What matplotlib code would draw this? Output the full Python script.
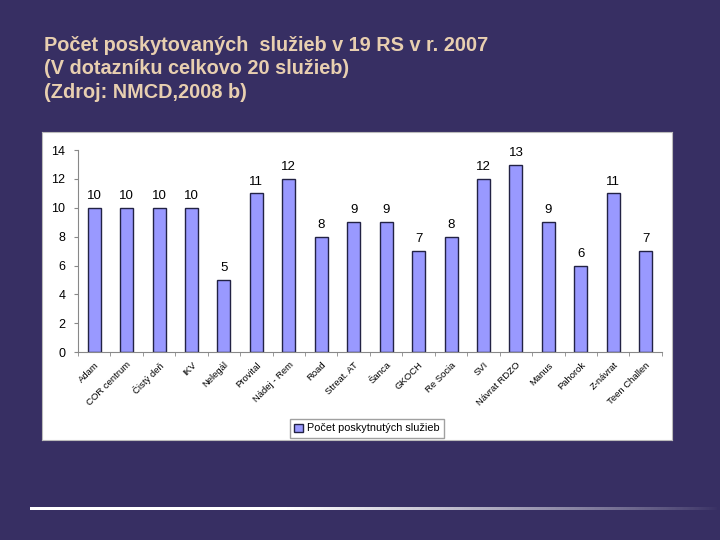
import matplotlib.pyplot as plt
import numpy as np

plt.rcParams['font.family'] = ['Liberation Sans', 'DejaVu Sans']

categories = ["Adam", "COR centrum", "Čistý deň", "IKV", "Nelegál", "Provital",
              "Nádej - Rem", "Road", "Streat. AT", "Šanca", "GKOCH", "Re Socia",
              "SVI", "Návrat RDZO", "Manus", "Pahorok", "Z-návrat", "Teen Challen"]
values = [10, 10, 10, 10, 5, 11, 12, 8, 9, 9, 7, 8, 12, 13, 9, 6, 11, 7]
yticks = [0, 2, 4, 6, 8, 10, 12, 14]
title_lines = ["Počet poskytovaných  služieb v 19 RS v r. 2007",
               "(V dotazníku celkovo 20 služieb)",
               "(Zdroj: NMCD,2008 b)"]
legend_label = "Počet poskytnutých služieb"

bg = "#372f63"
fig = plt.figure(figsize=(7.2, 5.4), dpi=100, facecolor=bg)

# title
for i, line in enumerate(title_lines):
    fig.text(0.061, 0.906 - i * 0.0435, line, color="#e8cfb0", fontsize=14.3,
             fontweight="bold", va="baseline", ha="left")

# white chart panel
pax = fig.add_axes([0.0583, 0.185, 0.875, 0.570], zorder=-1)
pax.set_facecolor("white")
pax.set_xticks([])
pax.set_yticks([])
for s in pax.spines.values():
    s.set_color("#bbbbbb")
    s.set_linewidth(0.8)

ax = fig.add_axes([0.1083, 0.348, 0.811, 0.374])
ax.set_facecolor("none")
x = np.arange(len(categories))
bars = ax.bar(x, values, width=0.4, color="#9999ff", edgecolor="#222244", linewidth=1,
              label=legend_label)
for xi, v in zip(x, values):
    ax.text(xi, v + 0.4, str(v), ha="center", va="bottom", fontsize=9.5, color="black")

ax.set_xlim(-0.5, len(categories) - 0.5)
ax.set_ylim(0, 14)
ax.set_yticks(yticks)
ax.tick_params(axis="y", labelsize=9, length=3, color="#888888", pad=6)
ax.set_xticks(x)
ax.set_xticklabels(categories, rotation=45, ha="right", rotation_mode="anchor", fontsize=6.8)
ax.tick_params(axis="x", length=0, pad=6)
ax.set_xticks(np.arange(len(categories) + 1) - 0.5, minor=True)
ax.tick_params(axis="x", which="minor", length=3, color="#888888")
for s in ["top", "right"]:
    ax.spines[s].set_visible(False)
for s in ["left", "bottom"]:
    ax.spines[s].set_color("#888888")

leg = fig.legend(handles=[bars], labels=[legend_label], loc="center",
                 bbox_to_anchor=(0.51, 0.2065), fontsize=7.8, frameon=True,
                 fancybox=False, edgecolor="#888888", handlelength=0.8, handleheight=0.8,
                 borderpad=0.4, handletextpad=0.4)

# bottom decorative line fading to the right
lax = fig.add_axes([0.042, 0.055, 0.958, 0.006])
grad = np.linspace(1, 0, 256)
cols = np.zeros((1, 256, 4))
cols[..., :3] = 1.0
cols[..., 3] = np.clip(grad * 1.6, 0, 1) ** 0.8
lax.imshow(cols, aspect="auto", extent=[0, 1, 0, 1])
lax.axis("off")

fig.savefig("out.png", dpi=100, facecolor=bg)
